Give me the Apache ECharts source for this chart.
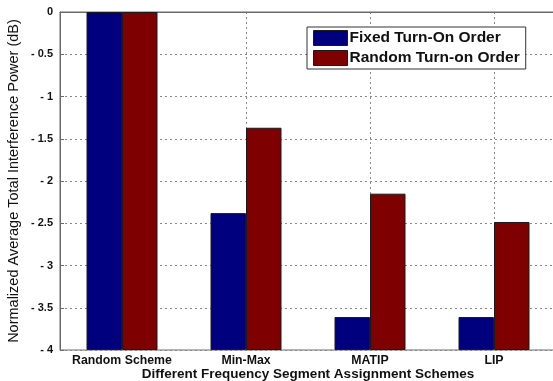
<!DOCTYPE html>
<html>
<head>
<meta charset="utf-8">
<script src="https://cdn.jsdelivr.net/npm/echarts@6/dist/echarts.min.js"></script>
<style>
  html, body { margin: 0; padding: 0; background: #fff; }
  #chart { width: 553px; height: 381px; }
</style>
</head>
<body>
<div id="chart"></div>
<script>
// Normalized average total interference power (dB) per assignment scheme
const schemes = ['Random Scheme', 'Min-Max', 'MATIP', 'LIP'];
const fixedOrder = [0, -2.38, -3.61, -3.61];
const randomOrder = [0, -1.37, -2.15, -2.485];
const yTicks = [0, -0.5, -1, -1.5, -2, -2.5, -3, -3.5, -4];
const seriesNames = ['Fixed Turn-On Order', 'Random Turn-on Order'];

const FLOOR = -4;           // bars rise from the bottom of the axis
const FONT = 'Liberation Sans, Arial, sans-serif';

function fmtTick(v) {
  if (v === 0) return '0';
  return '- ' + String(Math.abs(v));
}

// Each visible bar sits on an invisible base that spans 0 .. FLOOR,
// so the coloured part runs from FLOOR up to the value.
function barPair(name, values, color, stackId) {
  return [
    {
      type: 'bar', name: stackId + '-base', stack: stackId, stackStrategy: 'all',
      data: values.map(() => FLOOR),
      itemStyle: { color: 'transparent', borderWidth: 0 },
      barWidth: 35.5, barGap: '0%', silent: true, z: 2
    },
    {
      type: 'bar', name: name, stack: stackId, stackStrategy: 'all',
      data: values.map(v => v - FLOOR),
      itemStyle: { color: color, borderColor: '#1a1a1a', borderWidth: 1 },
      barWidth: 35.5, barGap: '0%', z: 3
    }
  ];
}

const chart = echarts.init(document.getElementById('chart'), null, { renderer: 'canvas' });
chart.setOption({
  animation: false,
  backgroundColor: '#fff',
  grid: {
    left: 60, top: 12, width: 496, height: 338,
    containLabel: false, outerBoundsMode: 'none',
    show: true, borderColor: '#6a6a6a', borderWidth: 1, backgroundColor: 'transparent'
  },
  legend: {
    data: seriesNames,
    orient: 'vertical',
    left: 307, top: 27,
    icon: 'rect',
    itemWidth: 34, itemHeight: 15, itemGap: 4,
    padding: [3, 6, 3, 6],
    borderColor: '#333', borderWidth: 1, backgroundColor: '#fff',
    textStyle: { fontFamily: FONT, fontWeight: 'bold', fontSize: 15.5, color: '#111', padding: [0, 0, 0, -3] },
    itemStyle: { borderColor: '#1a1a1a', borderWidth: 1 }
  },
  xAxis: {
    type: 'category',
    data: schemes,
    name: 'Different Frequency Segment Assignment Schemes',
    nameLocation: 'middle',
    nameGap: 17,
    nameMoveOverlap: false,
    nameTextStyle: { fontFamily: FONT, fontWeight: 'bold', fontSize: 13.5, color: '#111' },
    axisLine: { show: true, lineStyle: { color: '#6a6a6a' } },
    axisTick: { show: false, alignWithLabel: true, interval: 0 },
    axisLabel: { interval: 0, fontFamily: FONT, fontWeight: 'bold', fontSize: 12.3, color: '#111', margin: 5 },
    splitLine: { show: true, interval: 0, alignWithLabel: true, lineStyle: { color: '#888', type: [2, 3], width: 1 } }
  },
  yAxis: {
    type: 'value',
    min: FLOOR, max: 0, interval: 0.5,
    name: 'Normalized Average Total Interference Power (dB)',
    nameLocation: 'middle',
    nameGap: 39,
    nameMoveOverlap: false,
    nameTextStyle: { fontFamily: FONT, fontSize: 14.5, color: '#111' },
    axisLine: { show: true, lineStyle: { color: '#6a6a6a' } },
    axisTick: { show: true, inside: true, length: 4, lineStyle: { color: '#6a6a6a' } },
    axisLabel: {
      fontFamily: FONT, fontWeight: 'bold', fontSize: 11, color: '#111', margin: 7,
      formatter: v => yTicks.includes(v) ? fmtTick(v) : ''
    },
    splitLine: { show: true, lineStyle: { color: '#888', type: [2, 3], width: 1 } }
  },
  series: [
    ...barPair(seriesNames[0], fixedOrder, '#00007f', 'fixed'),
    ...barPair(seriesNames[1], randomOrder, '#7f0000', 'random')
  ]
});
</script>
</body>
</html>
